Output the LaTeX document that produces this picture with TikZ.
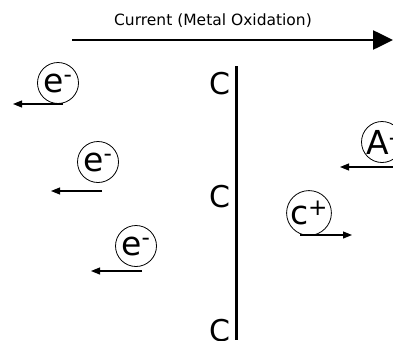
\documentclass[tikz,border=0pt]{standalone}
\usepackage{fontspec}
\setmainfont{DejaVu Sans}
\usetikzlibrary{arrows.meta}
\tikzset{
  ionnode/.style={circle, draw, line width=0.8pt, minimum size=41pt, inner sep=0pt,
    font=\fontsize{33}{34}\selectfont},
  ionarrow/.style={-{Triangle[length=9pt, width=7pt]}, line width=1.1pt},
  sitelabel/.style={font=\fontsize{30}{32}\selectfont, anchor=east, inner sep=0pt},
  bigarrow/.style={-{Triangle[length=20pt, width=19pt]}, line width=2.6pt},
}

\begin{document}
\begin{tikzpicture}[x=1pt, y=-1pt]
  \useasboundingbox (0,0) rectangle (393,340);
  \clip (0,0) rectangle (393,340);
  % current direction
  \coordinate (curStart) at (72,40);
  \coordinate (curEnd) at (393,40);
  \draw[bigarrow] (curStart) -- (curEnd);
  \node[font=\fontsize{15.5}{17}\selectfont] (curLabel) at (213,21) {Current (Metal Oxidation)};
  % metal surface with sites
  \coordinate (plateTop) at (236.5,66);
  \coordinate (plateBot) at (236.5,340);
  \draw[line width=3pt] (plateTop) -- (plateBot);
  \node[sitelabel] (site1) at (231,84) {C};
  \node[sitelabel] (site2) at (231,197) {C};
  \node[sitelabel] (site3) at (231,331) {C};
  % electrons moving left
  \node[ionnode] (e1) at (58,83) {e\textsuperscript{-}};
  \node[ionnode] (e2) at (98,162) {e\textsuperscript{-}};
  \node[ionnode] (e3) at (136,246) {e\textsuperscript{-}};
  \coordinate (e1a) at (63,104);  \coordinate (e1b) at (13,104);
  \coordinate (e2a) at (102,191); \coordinate (e2b) at (51,191);
  \coordinate (e3a) at (142,271); \coordinate (e3b) at (91,271);
  \draw[ionarrow] (e1a) -- (e1b);
  \draw[ionarrow] (e2a) -- (e2b);
  \draw[ionarrow] (e3a) -- (e3b);
  % ions in solution
  \node[ionnode] (cat) at (309,213) {c\textsuperscript{+}};
  \node[ionnode] (ani) at (382,142) {A\textsuperscript{-}};
  \coordinate (cata) at (300,235); \coordinate (catb) at (352,235);
  \coordinate (ania) at (393,167); \coordinate (anib) at (340,167);
  \draw[ionarrow] (cata) -- (catb);
  \draw[ionarrow] (ania) -- (anib);
\end{tikzpicture}
\end{document}
